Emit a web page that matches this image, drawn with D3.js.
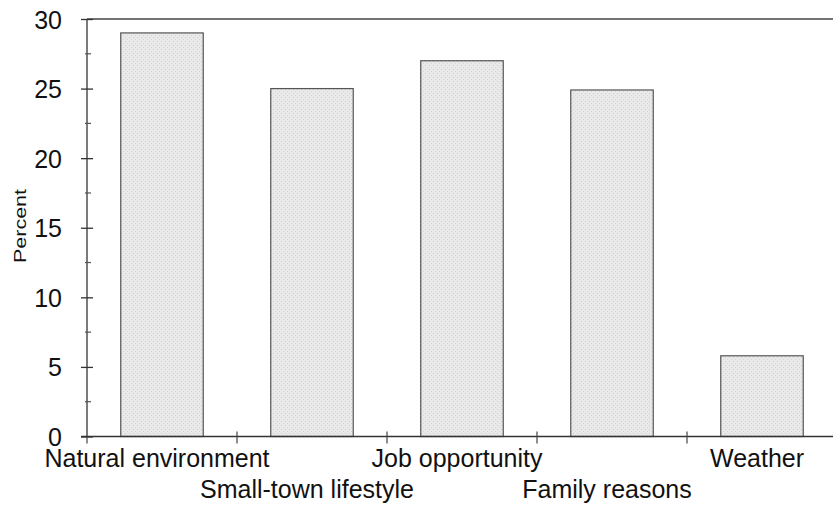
<!DOCTYPE html>
<html>
<head>
<meta charset="utf-8">
<script src="https://cdn.jsdelivr.net/npm/d3@7"></script>
<style>
  body { margin: 0; background: #fff; }
  svg { display: block; font-family: "Liberation Sans", Arial, sans-serif; }
</style>
</head>
<body>
<svg id="svg1" width="833" height="510"></svg>
<script>
var categories = ["Natural environment", "Small-town lifestyle", "Job opportunity", "Family reasons", "Weather"];
var percents = [29, 25, 27, 24.9, 5.8];
var yTicks = [0, 5, 10, 15, 20, 25, 30];
var yMinorTicks = [2.5, 7.5, 12.5, 17.5, 22.5, 27.5];

var svg = d3.select("#svg1");

var scaleY = d3.scaleLinear().domain([0, 30]).range([436.5, 19]);
var scaleX = d3.scaleBand()
               .domain(categories)
               .range([87, 837])
               .paddingInner(0.45)
               .paddingOuter(0.225);

// pattern so the bars get a bit of the scanned stipple look
var defs = svg.append("defs");
var pat = defs.append("pattern")
              .attr("id", "stipple")
              .attr("width", 4)
              .attr("height", 4)
              .attr("patternUnits", "userSpaceOnUse");
pat.append("rect").attr("width", 4).attr("height", 4).attr("fill", "#e9e9e9");
pat.append("rect").attr("x", 1).attr("y", 1).attr("width", 1).attr("height", 1).attr("fill", "#cfcfcf");
pat.append("rect").attr("x", 3).attr("y", 3).attr("width", 1).attr("height", 1).attr("fill", "#d6d6d6");

// top frame line
svg.append("line")
   .attr("x1", 87).attr("x2", 833)
   .attr("y1", scaleY(30)).attr("y2", scaleY(30))
   .attr("stroke", "#444").attr("stroke-width", 1.5);

// bars
svg.selectAll(".bar")
   .data(categories)
   .enter()
   .append("rect")
   .attr("class", "bar")
   .attr("x", function(d) { return scaleX(d); })
   .attr("y", function(d, i) { return scaleY(percents[i]); })
   .attr("width", scaleX.bandwidth())
   .attr("height", function(d, i) { return scaleY(0) - scaleY(percents[i]); })
   .attr("fill", "url(#stipple)")
   .attr("stroke", "#555")
   .attr("stroke-width", 1.2);

// y axis
var yAxis = svg.append("g")
               .attr("transform", "translate(87,0)")
               .call(d3.axisLeft(scaleY).tickValues(yTicks).tickSize(6).tickPadding(19));
yAxis.select(".domain").remove();
yAxis.selectAll(".tick line").attr("x2", 6).attr("x1", -6).attr("stroke", "#333").attr("stroke-width", 1.3);
yAxis.selectAll(".tick text")
     .attr("font-size", 25)
     .attr("fill", "#111")
     .attr("dy", "0.36em");

svg.append("line")
   .attr("x1", 87).attr("x2", 87)
   .attr("y1", scaleY(30)).attr("y2", scaleY(0))
   .attr("stroke", "#333").attr("stroke-width", 1.3);

svg.selectAll(".minor")
   .data(yMinorTicks)
   .enter()
   .append("line")
   .attr("class", "minor")
   .attr("x1", 85).attr("x2", 91)
   .attr("y1", function(d) { return scaleY(d); })
   .attr("y2", function(d) { return scaleY(d); })
   .attr("stroke", "#555").attr("stroke-width", 1.2);

svg.append("text")
   .attr("transform", "translate(26," + 226 + ") rotate(-90)")
   .attr("text-anchor", "middle")
   .attr("font-size", 16)
   .attr("textLength", 74)
   .attr("lengthAdjust", "spacingAndGlyphs")
   .attr("fill", "#111")
   .text("Percent");

// x axis
svg.append("line")
   .attr("x1", 81).attr("x2", 833)
   .attr("y1", scaleY(0)).attr("y2", scaleY(0))
   .attr("stroke", "#333").attr("stroke-width", 1.5);

svg.selectAll(".xtick")
   .data(categories.slice(1))
   .enter()
   .append("line")
   .attr("class", "xtick")
   .attr("x1", function(d) { return scaleX(d) - scaleX.step() * scaleX.paddingInner() / 2; })
   .attr("x2", function(d) { return scaleX(d) - scaleX.step() * scaleX.paddingInner() / 2; })
   .attr("y1", scaleY(0) - 5)
   .attr("y2", scaleY(0) + 7)
   .attr("stroke", "#444").attr("stroke-width", 1.2);

svg.append("line")
   .attr("x1", 87).attr("x2", 87)
   .attr("y1", scaleY(0)).attr("y2", scaleY(0) + 7)
   .attr("stroke", "#444").attr("stroke-width", 1.2);

svg.selectAll(".xlabel")
   .data(categories)
   .enter()
   .append("text")
   .attr("class", "xlabel")
   .attr("x", function(d) { return scaleX(d) + scaleX.bandwidth() / 2 - 5; })
   .attr("y", function(d, i) { return i % 2 == 0 ? 467 : 498; })
   .attr("text-anchor", "middle")
   .attr("font-size", 25)
   .attr("fill", "#111")
   .text(function(d) { return d; });
</script>
</body>
</html>
